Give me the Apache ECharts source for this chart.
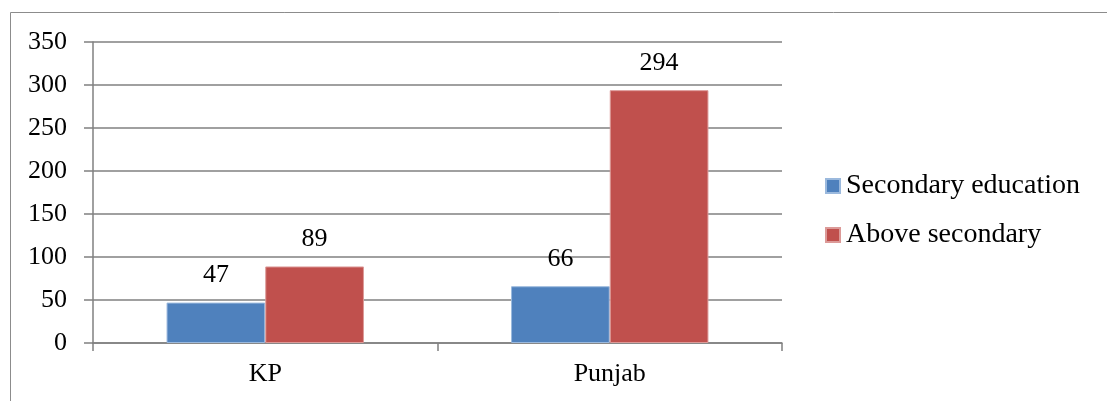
<!DOCTYPE html>
<html>
<head>
<meta charset="utf-8">
<script src="https://cdn.jsdelivr.net/npm/echarts@6/dist/echarts.min.js"></script>
<style>
html,body{margin:0;padding:0;background:#fff;}
#chart{width:1107px;height:401px;}
</style>
</head>
<body>
<div id="chart"></div>
<script>
var categories = ['KP', 'Punjab'];
var secondaryEducation = [47, 66];
var aboveSecondary = [89, 294];
var seriesNames = ['Secondary education', 'Above secondary'];

var FONT = '"Liberation Serif", "DejaVu Serif", serif';
var chart = echarts.init(document.getElementById('chart'), null, {renderer: 'canvas'});
var labelStyle = {show: true, position: 'top', distance: 14, color: '#000', fontFamily: FONT, fontSize: 26};
chart.setOption({
  animation: false,
  backgroundColor: '#fff',
  graphic: [{
    type: 'rect', silent: true,
    shape: {x: 10.5, y: 12.5, width: 1300, height: 600},
    style: {fill: 'none', stroke: '#8c8c8c', lineWidth: 1}
  }],
  grid: {left: 93, right: 325, top: 42, bottom: 58, containLabel: false},
  legend: {
    orient: 'vertical', left: 825, top: 172, padding: 0,
    itemWidth: 14, itemHeight: 14, itemGap: 21, icon: 'rect',
    textStyle: {color: '#000', fontFamily: FONT, fontSize: 28, lineHeight: 28, padding: [0, 0, 0, 1]},
    data: seriesNames
  },
  xAxis: {
    type: 'category', data: categories,
    axisLine: {lineStyle: {color: '#808080', width: 1.5}},
    axisTick: {show: true, length: 8, lineStyle: {color: '#808080', width: 1.5}},
    axisLabel: {color: '#000', fontFamily: FONT, fontSize: 26, margin: 18}
  },
  yAxis: {
    type: 'value', min: 0, max: 350, interval: 50,
    axisLine: {show: true, lineStyle: {color: '#808080', width: 1.5}},
    axisTick: {show: true, length: 9, lineStyle: {color: '#808080', width: 1.5}},
    splitLine: {show: true, lineStyle: {color: '#808080', width: 1.5}},
    axisLabel: {color: '#000', fontFamily: FONT, fontSize: 26, margin: 26}
  },
  series: [{
    name: seriesNames[0], type: 'bar', data: secondaryEducation,
    barWidth: 98.7, barGap: '0%',
    itemStyle: {color: '#4F81BD', borderColor: '#9bb9dd', borderWidth: 1},
    label: labelStyle
  }, {
    name: seriesNames[1], type: 'bar', data: aboveSecondary,
    barWidth: 98.7, barGap: '0%',
    itemStyle: {color: '#C0504D', borderColor: '#dc9a98', borderWidth: 1},
    label: labelStyle
  }]
});
</script>
</body>
</html>
